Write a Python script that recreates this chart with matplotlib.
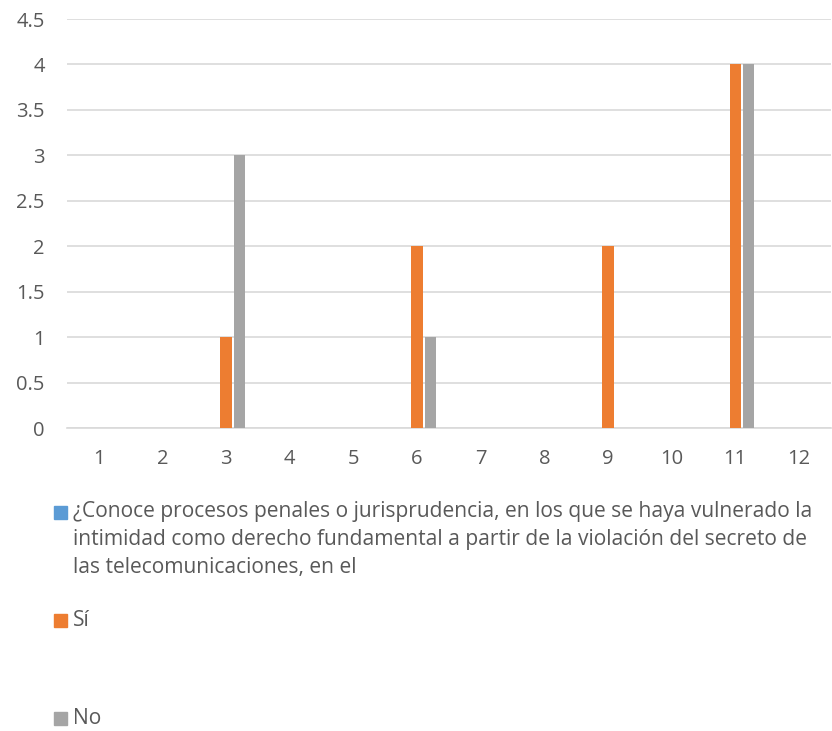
import matplotlib.pyplot as plt
import numpy as np
from matplotlib.patches import Rectangle

plt.rcParams['font.family'] = ['Open Sans', 'DejaVu Sans']

categories = [str(i) for i in range(1, 13)]
series_names = [
    "¿Conoce procesos penales o jurisprudencia, en los que se haya vulnerado la\n"
    "intimidad como derecho fundamental a partir de la violación del secreto de\n"
    "las telecomunicaciones, en el",
    "Sí",
    "No",
]
conoce = [0, 0, 0, 0, 0, 0, 0, 0, 0, 0, 0, 0]
si = [0, 0, 1, 0, 0, 2, 0, 0, 2, 0, 4, 0]
no = [0, 0, 3, 0, 0, 1, 0, 0, 0, 0, 4, 0]
colors = ['#5B9BD5', '#ED7D31', '#A5A5A5']

text_color = '#595959'
grid_color = '#D9D9D9'

fig = plt.figure(figsize=(8.32, 7.31), dpi=100)
ax = fig.add_axes([0.0805, 0.4145, 0.918, 0.5595])

x = np.arange(len(categories))
width = 0.18
offsets = [-0.21, 0.0, 0.21]
for vals, off, c in zip([conoce, si, no], offsets, colors):
    ax.bar(x + off, vals, width=width, color=c, zorder=3)

ax.set_xlim(-0.5, len(categories) - 0.5)
ax.set_ylim(0, 4.5)
yticks = [0, 0.5, 1, 1.5, 2, 2.5, 3, 3.5, 4, 4.5]
ax.set_yticks(yticks)
ax.set_yticklabels(['0', '0.5', '1', '1.5', '2', '2.5', '3', '3.5', '4', '4.5'])
ax.set_xticks(x)
ax.set_xticklabels(categories)
ax.grid(axis='y', color=grid_color, linewidth=1.2, zorder=0)
for s in ['top', 'right', 'left']:
    ax.spines[s].set_visible(False)
ax.spines['bottom'].set_color(grid_color)
ax.spines['bottom'].set_linewidth(1.2)
ax.tick_params(axis='both', length=0, labelsize=14.5, colors=text_color)
ax.tick_params(axis='x', pad=15)
ax.tick_params(axis='y', pad=16)

# legend drawn below the plot, one text per line
W, H = 832, 731
legend_rows = [512, 620, 718]
line_step = 28
for name, c, ypix in zip(series_names, colors, legend_rows):
    fig.patches.append(Rectangle((54 / W, 1 - (ypix + 7) / H), 13 / W, 13 / H,
                                 transform=fig.transFigure, color=c))
    for i, line in enumerate(name.split('\n')):
        fig.text(73 / W, 1 - (ypix + i * line_step) / H, line, fontsize=15.1,
                 color=text_color, va='center', ha='left')

fig.savefig('out.png', dpi=100)
